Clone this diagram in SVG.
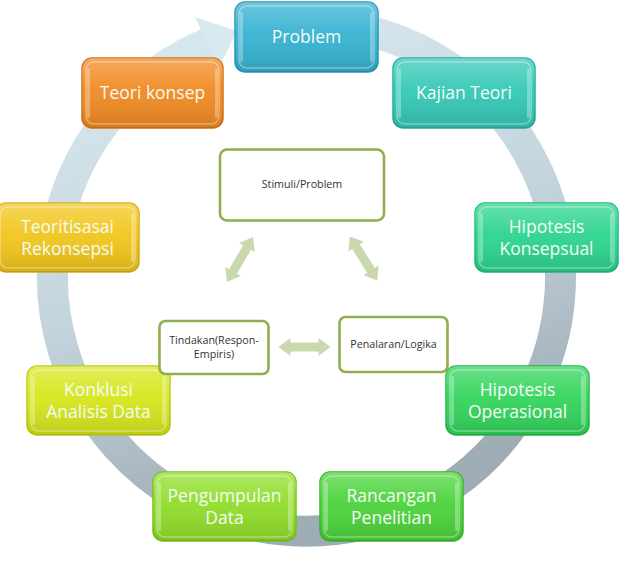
<svg xmlns="http://www.w3.org/2000/svg" width="619" height="569" viewBox="0 0 619 569">
<style>
.nt{font-family:"Open Sans","Liberation Sans",sans-serif;font-size:17.5px;fill:#f4fbf6;text-anchor:middle}
.it{font-family:"Open Sans","Liberation Sans",sans-serif;font-size:10.7px;fill:#333;text-anchor:middle}
.ib{fill:#fff;stroke:#8fae50;stroke-width:2.6}
.hl{fill:none;stroke:#fff;stroke-opacity:0.35;stroke-width:1.5}
.gl{fill:#fff;fill-opacity:0.3}
.da{fill:#c9d8ad}
</style>
<defs>
<linearGradient id="ring" x1="0" y1="0" x2="0.3" y2="1">
<stop offset="0" stop-color="#dbebf2"/>
<stop offset="0.55" stop-color="#c4d4dc"/>
<stop offset="1" stop-color="#9eacb5"/>
</linearGradient>
<linearGradient id="shade" x1="0" y1="0" x2="0" y2="1">
<stop offset="0" stop-color="#fff" stop-opacity="0.28"/>
<stop offset="0.45" stop-color="#fff" stop-opacity="0.05"/>
<stop offset="1" stop-color="#000" stop-opacity="0.12"/>
</linearGradient>
<path id="dbl" d="M-26,0 L-14,-9 L-14,-4.5 L14,-4.5 L14,-9 L26,0 L14,9 L14,4.5 L-14,4.5 L-14,9 Z"/>
</defs>

<g id="connectors">
<path d="M350.1,26.9 A254,254 0 1 1 208,43" fill="none" stroke="url(#ring)" stroke-width="31"/>
<polygon points="195,17 237,31 219,68" fill="#d9e9f0"/>
<use href="#dbl" class="da" transform="translate(240,259.5) rotate(120)"/>
<use href="#dbl" class="da" transform="translate(363.5,258.5) rotate(58)"/>
<use href="#dbl" class="da" transform="translate(304.5,347)"/>
</g>

<g id="n-problem">
<rect x="235" y="2" width="143" height="70" rx="10" fill="#36b2d1" stroke="#2596b4" stroke-width="1.5"/>
<rect x="235" y="2" width="143" height="70" rx="10" fill="url(#shade)"/>
<rect x="239" y="6" width="135" height="62" rx="8" class="hl"/>
<rect x="240" y="12" width="3" height="50" rx="1.5" class="gl"/><rect x="370" y="12" width="3" height="50" rx="1.5" class="gl"/>
<text class="nt" x="306.5" y="43">Problem</text>
</g>

<g id="n-kajian">
<rect x="393" y="58" width="142" height="70" rx="10" fill="#34c8b6" stroke="#22ad9c" stroke-width="1.5"/>
<rect x="393" y="58" width="142" height="70" rx="10" fill="url(#shade)"/>
<rect x="397" y="62" width="134" height="62" rx="8" class="hl"/>
<rect x="398" y="68" width="3" height="50" rx="1.5" class="gl"/><rect x="527" y="68" width="3" height="50" rx="1.5" class="gl"/>
<text class="nt" x="464" y="99">Kajian Teori</text>
</g>

<g id="n-hipkonsep">
<rect x="475" y="203" width="143" height="69" rx="10" fill="#2cd48f" stroke="#1eb877" stroke-width="1.5"/>
<rect x="475" y="203" width="143" height="69" rx="10" fill="url(#shade)"/>
<rect x="479" y="207" width="135" height="61" rx="8" class="hl"/>
<rect x="480" y="213" width="3" height="49" rx="1.5" class="gl"/><rect x="610" y="213" width="3" height="49" rx="1.5" class="gl"/>
<text class="nt" x="546.5" y="233">Hipotesis</text>
<text class="nt" x="546.5" y="255">Konsepsual</text>
</g>

<g id="n-hipoper">
<rect x="446" y="366" width="143" height="69" rx="10" fill="#33d45c" stroke="#22b846" stroke-width="1.5"/>
<rect x="446" y="366" width="143" height="69" rx="10" fill="url(#shade)"/>
<rect x="450" y="370" width="135" height="61" rx="8" class="hl"/>
<rect x="451" y="376" width="3" height="49" rx="1.5" class="gl"/><rect x="581" y="376" width="3" height="49" rx="1.5" class="gl"/>
<text class="nt" x="517.5" y="396">Hipotesis</text>
<text class="nt" x="517.5" y="418">Operasional</text>
</g>

<g id="n-rancangan">
<rect x="320" y="472" width="143" height="69" rx="10" fill="#4bd33a" stroke="#36b628" stroke-width="1.5"/>
<rect x="320" y="472" width="143" height="69" rx="10" fill="url(#shade)"/>
<rect x="324" y="476" width="135" height="61" rx="8" class="hl"/>
<rect x="325" y="482" width="3" height="49" rx="1.5" class="gl"/><rect x="455" y="482" width="3" height="49" rx="1.5" class="gl"/>
<text class="nt" x="391.5" y="502">Rancangan</text>
<text class="nt" x="391.5" y="524">Penelitian</text>
</g>

<g id="n-pengumpulan">
<rect x="153" y="472" width="143" height="69" rx="10" fill="#90dd2a" stroke="#76c21a" stroke-width="1.5"/>
<rect x="153" y="472" width="143" height="69" rx="10" fill="url(#shade)"/>
<rect x="157" y="476" width="135" height="61" rx="8" class="hl"/>
<rect x="158" y="482" width="3" height="49" rx="1.5" class="gl"/><rect x="288" y="482" width="3" height="49" rx="1.5" class="gl"/>
<text class="nt" x="224.5" y="502">Pengumpulan</text>
<text class="nt" x="224.5" y="524">Data</text>
</g>

<g id="n-konklusi">
<rect x="27" y="366" width="143" height="69" rx="10" fill="#d6e61c" stroke="#bccb10" stroke-width="1.5"/>
<rect x="27" y="366" width="143" height="69" rx="10" fill="url(#shade)"/>
<rect x="31" y="370" width="135" height="61" rx="8" class="hl"/>
<rect x="32" y="376" width="3" height="49" rx="1.5" class="gl"/><rect x="162" y="376" width="3" height="49" rx="1.5" class="gl"/>
<text class="nt" x="98.5" y="396">Konklusi</text>
<text class="nt" x="98.5" y="418">Analisis Data</text>
</g>

<g id="n-teoritisasai">
<rect x="-4" y="203" width="143" height="69" rx="10" fill="#f1c61c" stroke="#d8ab0c" stroke-width="1.5"/>
<rect x="-4" y="203" width="143" height="69" rx="10" fill="url(#shade)"/>
<rect x="0" y="207" width="135" height="61" rx="8" class="hl"/>
<rect x="131" y="213" width="3" height="49" rx="1.5" class="gl"/>
<text class="nt" x="67.5" y="233">Teoritisasai</text>
<text class="nt" x="67.5" y="255">Rekonsepsi</text>
</g>

<g id="n-teorikonsep">
<rect x="82" y="58" width="141" height="70" rx="10" fill="#f08a22" stroke="#d67212" stroke-width="1.5"/>
<rect x="82" y="58" width="141" height="70" rx="10" fill="url(#shade)"/>
<rect x="86" y="62" width="133" height="62" rx="8" class="hl"/>
<rect x="87" y="68" width="3" height="50" rx="1.5" class="gl"/><rect x="215" y="68" width="3" height="50" rx="1.5" class="gl"/>
<text class="nt" x="152.5" y="99">Teori konsep</text>
</g>

<g id="n-stimuli">
<rect x="220" y="149.5" width="164" height="71" rx="7" class="ib"/>
<text class="it" x="302" y="188">Stimuli/Problem</text>
</g>

<g id="n-tindakan">
<rect x="159.5" y="321" width="109" height="53" rx="6" class="ib"/>
<text class="it" x="214" y="344">Tindakan(Respon-</text>
<text class="it" x="214" y="358">Empiris)</text>
</g>

<g id="n-penalaran">
<rect x="339.5" y="317" width="108" height="55" rx="6" class="ib"/>
<text class="it" x="393.5" y="348">Penalaran/Logika</text>
</g>
</svg>
